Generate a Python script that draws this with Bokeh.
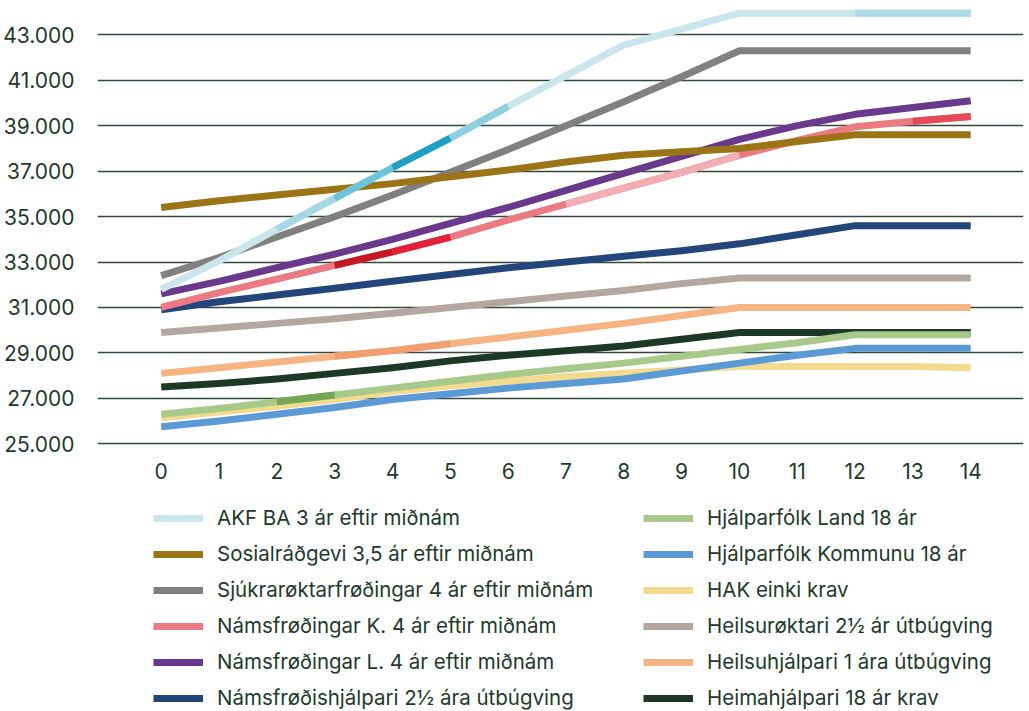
from bokeh.plotting import figure
from bokeh.models import FixedTicker, Legend, LegendItem, Range1d
from bokeh.embed import file_html
from bokeh.resources import INLINE

# ---------------- data ----------------
years = list(range(15))
x_tick_labels = [str(y) for y in years]
y_ticks = [25000, 27000, 29000, 31000, 33000, 35000, 37000, 39000, 41000, 43000]
y_tick_labels = ["25.000", "27.000", "29.000", "31.000", "33.000",
                 "35.000", "37.000", "39.000", "41.000", "43.000"]

akf = [31800, 33050, 34450, 35800, 37150, 38450, 39850, 41200, 42550, 43250, 43950, 43950, 43950, 43950, 43950]
sosial = [35400, 35700, 35950, 36200, 36450, 36750, 37050, 37400, 37700, 37850, 38000, 38300, 38600, 38600, 38600]
sjukra = [32400, 33200, 34100, 35000, 35950, 36950, 37950, 39000, 40050, 41150, 42300, 42300, 42300, 42300, 42300]
nams_k = [31000, 31650, 32250, 32850, 33450, 34100, 34850, 35550, 36250, 36950, 37700, 38350, 38950, 39200, 39400]
nams_l = [31600, 32150, 32750, 33350, 34000, 34700, 35400, 36150, 36900, 37650, 38400, 39000, 39500, 39800, 40100]
namshjalp = [30900, 31250, 31550, 31850, 32150, 32450, 32750, 33000, 33250, 33500, 33800, 34200, 34600, 34600, 34600]
hjalp_land = [26300, 26550, 26850, 27150, 27450, 27750, 28050, 28300, 28550, 28850, 29150, 29450, 29800, 29800, 29800]
hjalp_komm = [25750, 26000, 26300, 26600, 26950, 27200, 27450, 27650, 27850, 28200, 28550, 28900, 29200, 29200, 29200]
hak = [26150, 26400, 26650, 26950, 27300, 27550, 27750, 27950, 28100, 28250, 28400, 28400, 28400, 28400, 28350]
heilsurokt = [29900, 30100, 30300, 30500, 30750, 31000, 31250, 31500, 31750, 32050, 32300, 32300, 32300, 32300, 32300]
heilsuhjalp = [28100, 28350, 28600, 28850, 29100, 29400, 29700, 30000, 30300, 30650, 31000, 31000, 31000, 31000, 31000]
heimahjalp = [27500, 27650, 27850, 28100, 28350, 28650, 28900, 29100, 29300, 29600, 29900, 29900, 29900, 29900, 29900]

names = [
    "AKF BA 3 ár eftir miðnám",
    "Sosialráðgevi 3,5 ár eftir miðnám",
    "Sjúkrarøktarfrøðingar 4 ár eftir miðnám",
    "Námsfrøðingar K. 4 ár eftir miðnám",
    "Námsfrøðingar L. 4 ár eftir miðnám",
    "Námsfrøðishjálpari 2½ ára útbúgving",
    "Hjálparfólk Land 18 ár",
    "Hjálparfólk Kommunu 18 ár",
    "HAK einki krav",
    "Heilsurøktari 2½ ár útbúgving",
    "Heilsuhjálpari 1 ára útbúgving",
    "Heimahjálpari 18 ár krav",
]
values = [akf, sosial, sjukra, nams_k, nams_l, namshjalp,
          hjalp_land, hjalp_komm, hak, heilsurokt, heilsuhjalp, heimahjalp]
colors = ["#c9e6ed", "#9a7415", "#808080", "#eb7a83", "#69398e", "#22457a",
          "#a9c98b", "#5b9bd5", "#f2db8c", "#b4a7a2", "#f6b483", "#1d3826"]
# tonal variations along a line (index range, colour)
accents = {
    0: [(2, 3, "#a4d8e5"), (3, 4, "#6cc4db"), (4, 5, "#1f9fc5"), (5, 6, "#8fd0e0"), (12, 14, "#aadbe7")],
    3: [(3, 4, "#c41822"), (4, 5, "#e3223a"), (7, 10, "#f2aeb2"), (13, 14, "#e6495a")],
    6: [(2, 3, "#74a656")],
    10: [(3, 5, "#f29f70")],
}
draw_order = [11, 10, 9, 8, 7, 6, 5, 4, 3, 2, 1, 0]

TEXT = "#1e3a2b"
FONT = "Inter"

# pixel layout of the value axis (frame spans the whole canvas height)
H = 711
px_top_tick, px_bottom_tick = 34.3, 443.3
per_px = (y_ticks[-1] - y_ticks[0]) / (px_bottom_tick - px_top_tick)
y_end = y_ticks[-1] + px_top_tick * per_px
y_start = y_ticks[0] - (H - px_bottom_tick) * per_px

p = figure(width=1029, height=H,
           x_range=Range1d(-1.102, 14.913), y_range=Range1d(y_start, y_end),
           output_backend="svg", toolbar_location=None,
           min_border_left=93, min_border_right=6, min_border_top=0,
           min_border_bottom=0)
p.outline_line_color = None
p.background_fill_color = "white"

p.xgrid.visible = False
p.ygrid.ticker = FixedTicker(ticks=y_ticks)
p.ygrid.grid_line_color = "#34483b"
p.ygrid.grid_line_width = 1.6

p.xaxis.fixed_location = y_ticks[0]
p.xaxis.ticker = FixedTicker(ticks=years)
p.xaxis.major_label_overrides = {y: l for y, l in zip(years, x_tick_labels)}
p.yaxis.ticker = FixedTicker(ticks=y_ticks)
p.yaxis.major_label_overrides = {t: l for t, l in zip(y_ticks, y_tick_labels)}
for ax in (p.xaxis, p.yaxis):
    ax.axis_line_color = None
    ax.major_tick_line_color = None
    ax.minor_tick_line_color = None
    ax.major_label_text_font = FONT
    ax.major_label_text_font_size = "21px"
    ax.major_label_text_color = TEXT
p.xaxis.major_label_standoff = 13
p.yaxis.major_label_standoff = 17

renderers = {}
for i in draw_order:
    r = p.line(years, values[i], line_color=colors[i], line_width=7,
               line_cap="butt", line_join="round")
    renderers[i] = r
    for (a, b, c) in accents.get(i, []):
        p.line(years[a:b + 1], values[i][a:b + 1], line_color=c, line_width=7,
               line_cap="butt", line_join="round")

items = [LegendItem(label=names[i], renderers=[renderers[i]]) for i in range(12)]
legend = Legend(items=items, location=(56, 1), orientation="vertical", nrows=6,
                glyph_width=50, glyph_height=24, label_height=24, label_standoff=14,
                label_width=415, spacing=11, padding=0, margin=0,
                border_line_color=None, background_fill_alpha=0,
                label_text_font=FONT, label_text_font_size="20.5px",
                label_text_color=TEXT)
p.add_layout(legend, "center")

open("out.html", "w").write(file_html(p, INLINE))
